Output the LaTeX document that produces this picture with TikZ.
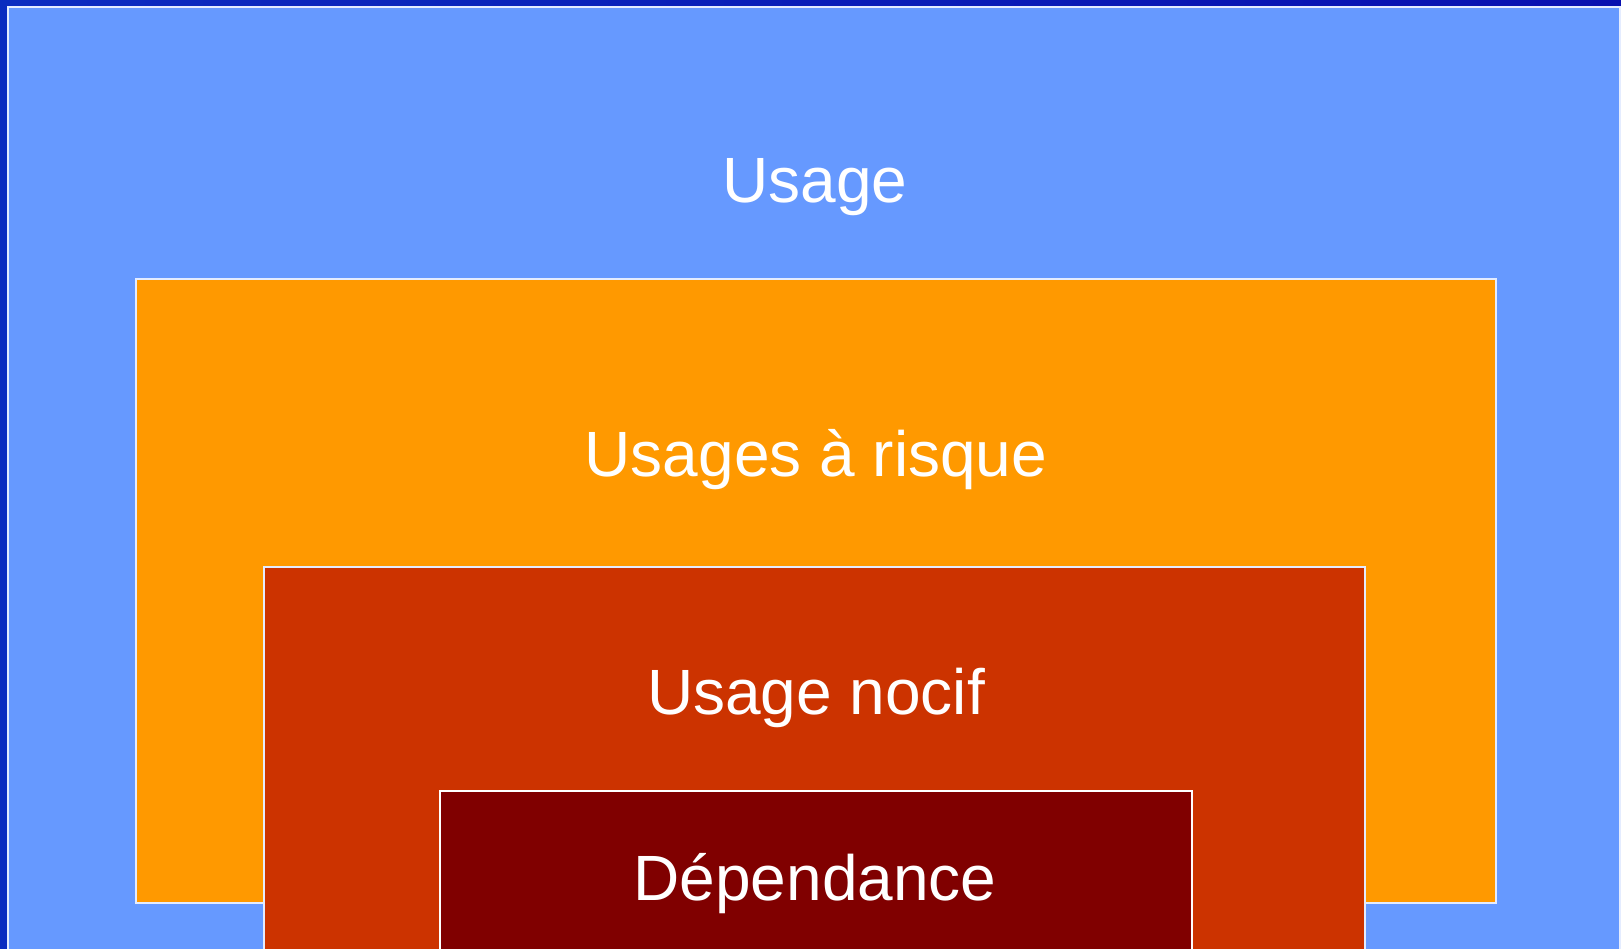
\documentclass[tikz,border=0pt]{standalone}
\usepackage{fontspec}
\setmainfont{Liberation Sans}
\definecolor{bgdark}{HTML}{0810B0}
\definecolor{bglight}{HTML}{0A2CC0}
\definecolor{usageblue}{HTML}{6699FF}
\definecolor{risqueorange}{HTML}{FF9900}
\definecolor{nocifred}{HTML}{CC3300}
\definecolor{dependred}{HTML}{800000}
\definecolor{edgelight}{HTML}{E4ECFF}
\tikzset{
  levelbox/.style={draw=edgelight, line width=1.5pt},
  leveltext/.style={text=white, anchor=base, inner sep=0pt, font=\fontsize{64}{76}\selectfont}
}
\begin{document}
\begin{tikzpicture}[x=1pt,y=-1pt]
\useasboundingbox (0,0) rectangle (1621,949);
\clip (0,0) rectangle (1621,949);
\shade[left color=bglight, right color=bgdark] (0,0) rectangle (1621,949);
\fill[usageblue] (8,7) rectangle (1620,970);
\draw[levelbox] (8,970) -- (8,7) -- (1620,7) -- (1620,970);
\filldraw[levelbox, fill=risqueorange] (136,279) rectangle (1496,903);
\filldraw[levelbox, fill=nocifred] (264,567) rectangle (1365,980);
\filldraw[levelbox, draw=white, fill=dependred] (440,791) rectangle (1192,980);
\node[leveltext] (usage) at (815,203) {Usage};
\node[leveltext] (risque) at (816,476) {Usages à risque};
\node[leveltext] (nocif) at (816,714) {Usage nocif};
\node[leveltext] (dep) at (815,900) {Dépendance};
\end{tikzpicture}
\end{document}
